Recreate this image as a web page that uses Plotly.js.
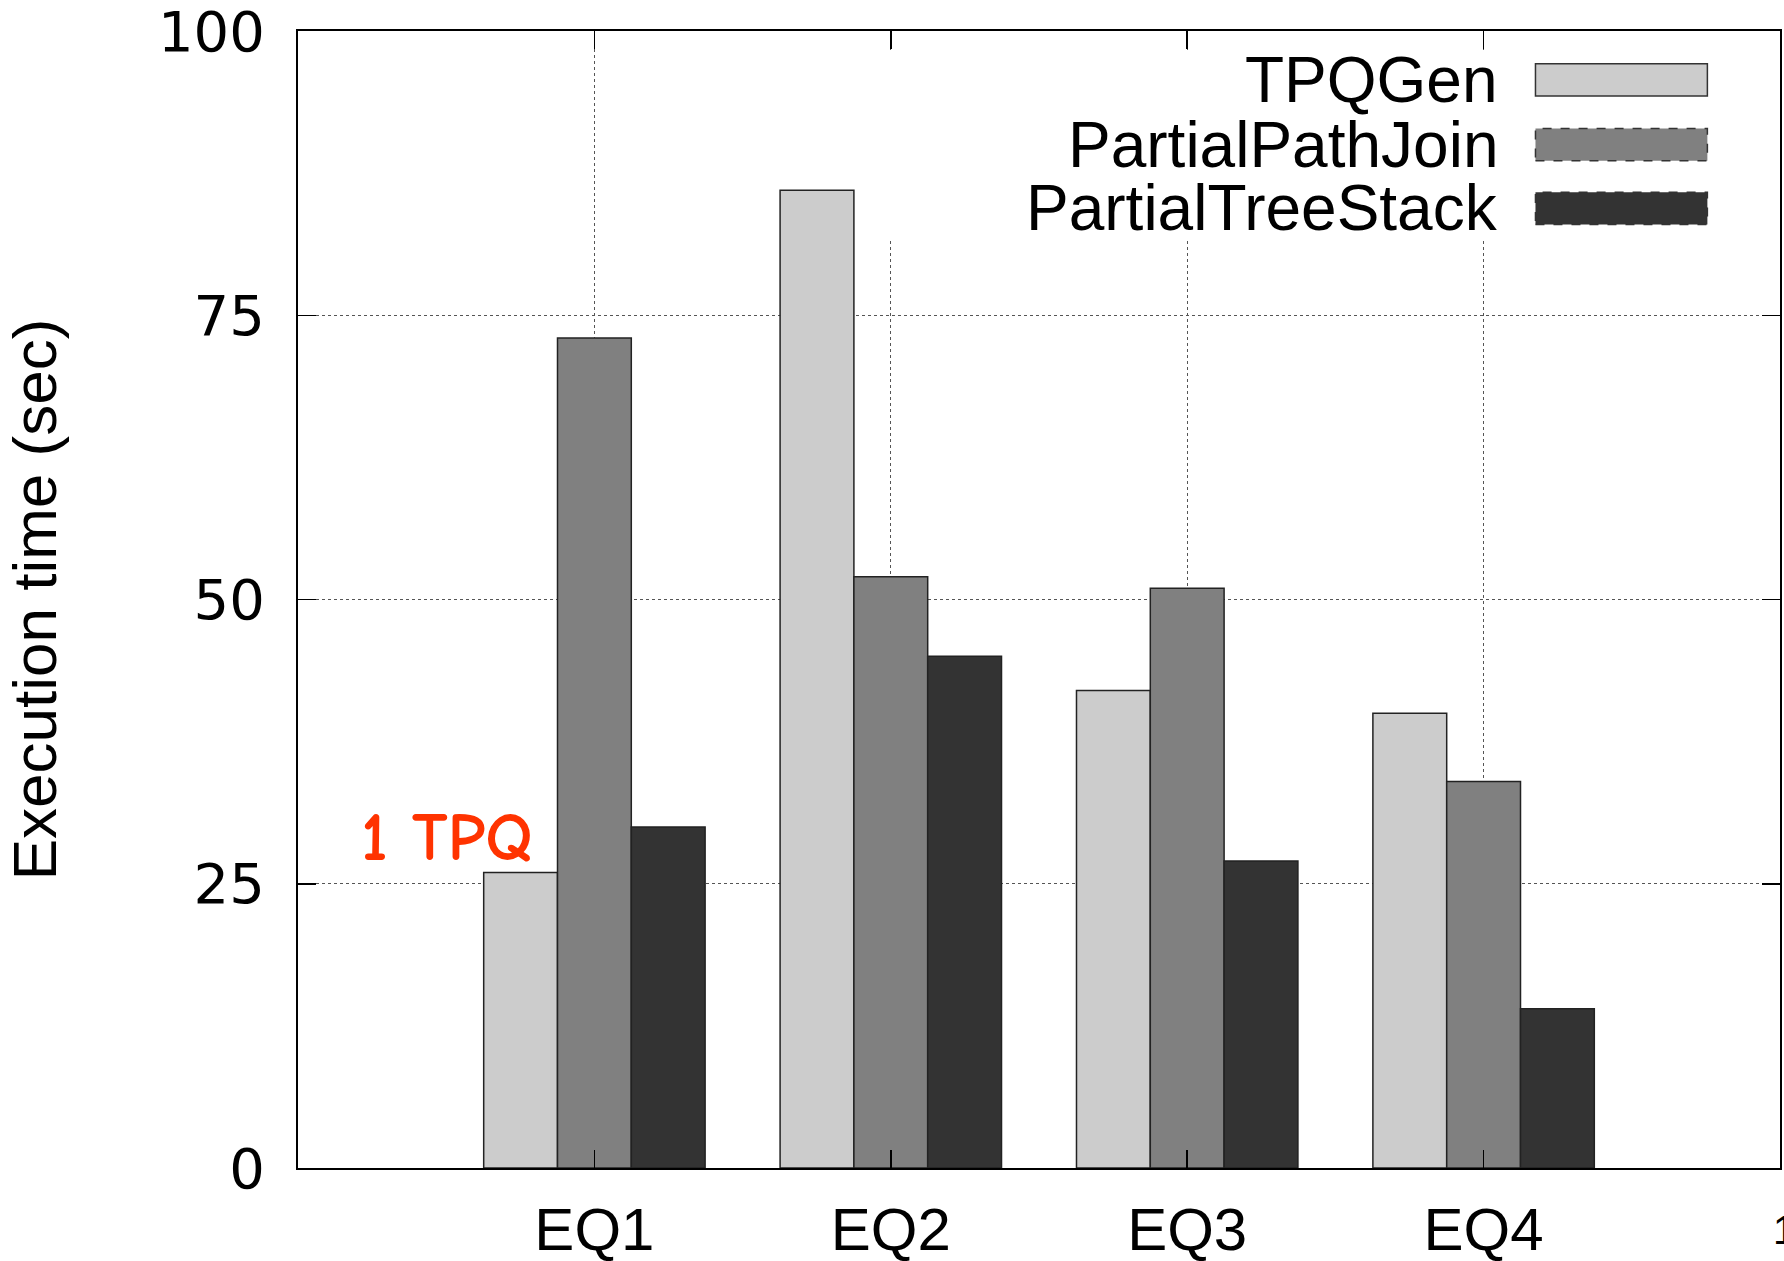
<!DOCTYPE html>
<html>
<head>
<meta charset="utf-8">
<script src="https://cdn.plot.ly/plotly-3.0.1.min.js"></script>
<style>html,body{margin:0;padding:0;background:#fff;}#chart{width:1784px;height:1261px;}</style>
</head>
<body>
<div id="chart"></div>
<script>
const categories = ['EQ1', 'EQ2', 'EQ3', 'EQ4'];
const seriesNames = ['TPQGen', 'PartialPathJoin', 'PartialTreeStack'];
const tpqgen = [26, 86, 42, 40];
const partialPathJoin = [73, 52, 51, 34];
const partialTreeStack = [30, 45, 27, 14];
const yTickVals = [0, 25, 50, 75, 100];
const yTickText = ['0', '25', '50', '75', '100'];
const seriesColors = ['#cccccc', '#808080', '#333333'];
const outlineDash = ['solid', 'dash', 'dash'];
const yTitle = 'Execution time (sec)';
const noteText = '1 TPQ';

const seriesValues = [tpqgen, partialPathJoin, partialTreeStack];
const MAIN = 'Liberation Sans, Arial, Helvetica, sans-serif';

const traces = seriesNames.map((n, i) => ({
  type: 'bar', name: n, x: categories, y: seriesValues[i],
  marker: {color: seriesColors[i], line: {color: '#222222', width: 1.5}},
  hoverinfo: 'skip', showlegend: false
}));

const shapes = [{
  type: 'rect', xref: 'paper', yref: 'paper', layer: 'above',
  x0: 0.38, x1: 0.998, y0: 0.817, y1: 0.9833,
  fillcolor: '#ffffff', line: {width: 0}
}];
const annotations = [];
const legY = [0.957, 0.900, 0.844];
seriesNames.forEach((n, i) => {
  annotations.push({
    xref: 'paper', yref: 'paper', x: 0.811, y: legY[i], xanchor: 'right', yanchor: 'middle',
    text: n, showarrow: false, font: {family: MAIN, size: 64, color: '#000'}
  });
  shapes.push({
    type: 'rect', xref: 'paper', yref: 'paper', layer: 'above',
    x0: 0.835, x1: 0.951, y0: legY[i] - 0.0142, y1: legY[i] + 0.0142,
    fillcolor: seriesColors[i], line: {color: '#333333', width: 1.5, dash: outlineDash[i]}
  });
});
annotations.push({
  xref: 'x', yref: 'y', x: -0.205, y: 29.0, xanchor: 'right', yanchor: 'middle',
  text: noteText, showarrow: false,
  font: {family: 'Comic Sans MS, Comic Neue, Noto Sans, sans-serif', size: 68, weight: 'bold', color: '#ff3300'}
});
annotations.push({
  xref: 'paper', yref: 'paper', x: 0.994, y: -0.0545, xanchor: 'left', yanchor: 'middle',
  text: '1', showarrow: false, font: {family: MAIN, size: 40, color: '#000'}
});

const layout = {
  width: 1784, height: 1261,
  margin: {l: 298, r: 4, t: 31, b: 93},
  paper_bgcolor: '#ffffff', plot_bgcolor: '#ffffff',
  barmode: 'group', bargap: 0.253, bargroupgap: 0,
  showlegend: false,
  xaxis: {
    type: 'category', range: [-1, 4], categoryorder: 'array', categoryarray: categories,
    showline: true, linecolor: '#000', linewidth: 2, mirror: 'ticks',
    ticks: 'inside', ticklen: 18, tickwidth: 1.5, tickcolor: '#000',
    showgrid: true, gridcolor: '#555555', gridwidth: 1, griddash: 'dot',
    tickfont: {family: MAIN, size: 60, color: '#000'},
    ticklabelstandoff: 8, ticklabeloverflow: 'allow', zeroline: false
  },
  yaxis: {
    range: [0, 100], tickvals: yTickVals, ticktext: yTickText,
    showline: true, linecolor: '#000', linewidth: 2, mirror: 'ticks',
    ticks: 'inside', ticklen: 18, tickwidth: 1.5, tickcolor: '#000',
    showgrid: true, gridcolor: '#555555', gridwidth: 1, griddash: 'dot',
    zeroline: false,
    tickfont: {family: 'DejaVu Sans, Verdana, sans-serif', size: 56, color: '#000'},
    ticklabelstandoff: 20, ticklabeloverflow: 'allow',
    title: {text: yTitle, font: {family: MAIN, size: 62, color: '#000'}, standoff: 100}
  },
  shapes: shapes,
  annotations: annotations
};

Plotly.newPlot('chart', traces, layout, {staticPlot: true, displayModeBar: false});
</script>
</body>
</html>
